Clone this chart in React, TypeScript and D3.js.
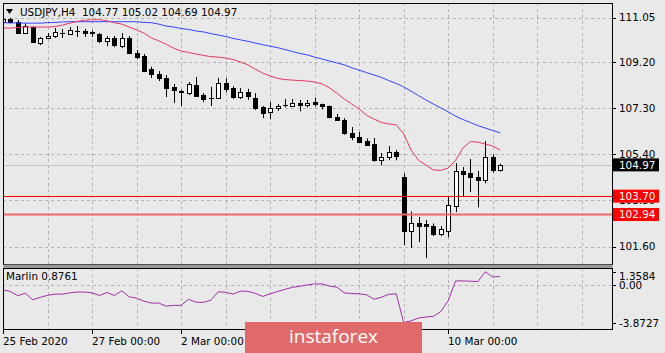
import React from 'react';
import * as d3 from 'd3';

const W = 665;
const H = 353;

// OHLC of USDJPY H4 candles (bar 0 = 25 Feb 2020 00:00)
const opens = [110.86,111.00,110.86,110.41,110.66,110.00,110.21,110.29,110.37,110.37,110.48,110.50,110.44,110.37,110.09,110.21,109.87,110.21,109.59,109.47,108.92,108.72,108.56,108.19,108.01,107.93,108.27,107.87,107.75,107.73,108.37,108.15,107.77,107.97,107.75,107.36,107.14,107.30,107.42,107.42,107.52,107.42,107.56,107.48,107.40,106.94,106.82,106.29,106.14,105.97,105.83,105.16,105.30,105.50,104.46,102.23,102.57,102.51,102.44,102.11,102.23,103.27,104.72,104.63,104.48,104.34,105.28,104.77];
const highs = [111.08,111.04,110.95,110.82,110.70,110.25,110.41,110.62,110.58,110.66,110.70,110.58,110.52,110.41,110.29,110.29,110.41,110.29,109.71,109.55,109.02,108.84,108.68,108.31,108.07,108.39,108.60,107.93,108.19,108.56,108.54,108.21,108.15,108.11,107.93,107.40,107.56,107.48,107.69,107.69,107.65,107.65,107.75,107.50,107.42,107.07,106.90,106.53,106.33,106.06,106.08,105.46,105.75,105.58,104.62,103.04,102.82,102.69,102.55,102.44,103.64,105.04,104.88,105.21,104.72,105.95,105.40,105.02];
const lows = [110.70,110.82,110.37,110.37,110.02,109.91,110.17,110.21,110.21,110.33,110.25,110.25,110.25,110.00,109.87,109.83,109.79,109.55,109.34,108.80,108.56,108.43,107.77,107.52,107.40,107.85,107.79,107.56,107.40,107.69,107.97,107.69,107.69,107.65,107.24,106.90,106.86,107.20,107.34,107.38,107.18,107.34,107.38,107.26,106.90,106.78,106.21,105.99,105.89,105.75,105.10,104.96,105.16,105.16,101.66,101.54,101.78,101.12,102.03,102.03,101.99,103.02,103.68,103.85,103.22,104.21,104.65,104.69];
const closes = [111.00,110.86,110.41,110.70,110.04,110.21,110.31,110.46,110.41,110.54,110.46,110.41,110.39,110.07,110.21,109.91,110.21,109.59,109.42,108.86,108.70,108.54,108.15,108.05,107.95,108.31,107.83,107.69,107.71,108.35,108.11,107.77,107.99,107.79,107.34,107.11,107.32,107.40,107.44,107.54,107.44,107.52,107.46,107.38,106.94,106.80,106.29,106.12,105.95,105.79,105.16,105.30,105.50,105.34,102.21,102.57,102.46,102.42,102.13,102.32,103.32,104.72,104.59,104.48,104.36,105.30,104.76,104.97];

// moving averages
const maRed = [110.62,110.62,110.64,110.66,110.66,110.66,110.66,110.68,110.74,110.82,110.89,110.94,110.96,110.96,110.92,110.84,110.78,110.66,110.54,110.41,110.21,110.09,109.95,109.79,109.67,109.61,109.55,109.49,109.44,109.42,109.38,109.32,109.22,109.10,108.92,108.76,108.64,108.54,108.49,108.47,108.45,108.43,108.39,108.31,108.15,107.93,107.69,107.48,107.28,107.02,106.86,106.72,106.66,106.62,106.25,105.58,105.16,104.96,104.76,104.74,104.84,105.16,105.67,105.93,105.91,105.83,105.75,105.58];
const maBlue = [110.84,110.83,110.83,110.82,110.82,110.82,110.84,110.85,110.87,110.88,110.88,110.88,110.88,110.88,110.88,110.88,110.88,110.88,110.88,110.85,110.84,110.78,110.70,110.66,110.60,110.56,110.50,110.46,110.39,110.33,110.27,110.19,110.13,110.07,110.00,109.93,109.87,109.81,109.73,109.65,109.57,109.51,109.42,109.34,109.26,109.18,109.10,108.98,108.88,108.78,108.68,108.58,108.45,108.33,108.19,108.01,107.83,107.65,107.48,107.32,107.16,106.98,106.84,106.72,106.59,106.49,106.39,106.29];

// Marlin oscillator
const marlin = [-0.51,-0.68,-1.12,-0.85,-1.53,-1.29,-1.07,-0.95,-0.95,-0.82,-0.74,-0.74,-0.82,-1.09,-0.78,-1.09,-0.61,-1.22,-1.36,-1.68,-1.87,-1.87,-2.19,-2.11,-2.11,-1.48,-1.78,-1.80,-1.58,-0.71,-0.76,-0.95,-0.64,-0.66,-0.87,-1.19,-0.92,-0.68,-0.46,-0.25,-0.15,0.00,0.10,0.10,-0.13,-0.23,-0.82,-0.89,-0.92,-1.02,-1.48,-1.27,-0.97,-0.92,-3.8727,-3.70,-3.41,-3.31,-3.24,-2.75,-1.63,0.41,0.41,0.38,0.34,1.3584,0.80,0.8761];

const priceTicks = [111.05, 109.20, 107.30, 105.40, 103.50, 101.60];
const levels = [103.70, 102.94];
const lastPrice = 104.97;
const marlinTicks = [1.3584, 0.0, -3.8727];
// labels visible in the picture (the ones at bars 36 and 48 are covered by the watermark)
const timeLabels = ['25 Feb 2020', '27 Feb 00:00', '2 Mar 00:00', '10 Mar 00:00'];
const timeLabelBars = [0, 12, 24, 60];
const timeTickBars = [0, 12, 24, 36, 48, 60];
const gridBars = [6, 12, 18, 24, 30, 36, 42, 48, 54, 60, 66, 72, 78];
const header = 'USDJPY,H4  104.77 105.02 104.69 104.97';

const FONT = '"DejaVu Sans", Verdana, sans-serif';

export default function App() {
  const L = 3, R = 612, T = 3, B = 265;
  const IT = 268, IB = 330;
  const x = d3.scaleLinear().domain([0, 60]).range([3, 448.2]);
  const y = d3.scaleLinear().domain([101.6, 111.05]).range([246.5, 17.6]);
  const yi = d3.scaleLinear().domain([-3.8727, 1.3584]).range([322.5, 271.7]);

  const lineMain = d3.line<number>().x((_, i) => x(i)).y((v) => y(v));
  const lineInd = d3.line<number>().x((_, i) => x(i)).y((v) => yi(v));

  const fmt = d3.format('.2f');
  const bg = '#e9e9e9';
  const grid = '#b4b4b4';

  return (
    <svg width={W} height={H} style={{ position: 'fixed', left: 0, top: 0, background: bg }} fontFamily={FONT}>
      <defs>
        <clipPath id="mainClip"><rect x={L} y={T} width={R - L} height={B - T} /></clipPath>
        <clipPath id="indClip"><rect x={L} y={IT} width={R - L} height={IB - IT} /></clipPath>
      </defs>
      <rect x={0} y={0} width={W} height={H} fill={bg} />

      {/* main panel grid */}
      <g stroke={grid} strokeDasharray="3,3" strokeWidth={1}>
        {priceTicks.map((p) => (
          <line key={'h' + p} x1={L} x2={R} y1={Math.round(y(p)) + 0.5} y2={Math.round(y(p)) + 0.5} />
        ))}
        {gridBars.filter((b) => x(b) < R).map((b) => (
          <line key={'v' + b} x1={Math.round(x(b)) + 0.5} x2={Math.round(x(b)) + 0.5} y1={T} y2={B} />
        ))}
        {gridBars.filter((b) => x(b) < R).map((b) => (
          <line key={'vi' + b} x1={Math.round(x(b)) + 0.5} x2={Math.round(x(b)) + 0.5} y1={IT} y2={IB} />
        ))}
        <line x1={L} x2={R} y1={Math.round(yi(0)) + 0.5} y2={Math.round(yi(0)) + 0.5} />
      </g>

      {/* last price line */}
      <line x1={L} x2={R} y1={Math.round(y(lastPrice)) + 0.5} y2={Math.round(y(lastPrice)) + 0.5} stroke="#c4c4c4" strokeWidth={1} />

      <g clipPath="url(#mainClip)">
        {/* candles */}
        {opens.map((o, i) => {
          const c = closes[i];
          const cx = Math.round(x(i));
          const yo = y(o), yc = y(c);
          const top = Math.min(yo, yc);
          const h = Math.abs(yo - yc);
          const up = c >= o;
          return (
            <g key={'c' + i}>
              <line x1={cx + 0.5} x2={cx + 0.5} y1={y(highs[i])} y2={y(lows[i])} stroke="#000" strokeWidth={1} />
              {h < 1.2 ? (
                <line x1={cx - 2} x2={cx + 3} y1={Math.round(top) + 0.5} y2={Math.round(top) + 0.5} stroke="#000" strokeWidth={1} />
              ) : (
                <rect x={cx - 1.5} y={Math.round(top) + 0.5} width={4} height={Math.max(1, Math.round(h))} fill={up ? '#fff' : '#000'} stroke="#000" strokeWidth={1} />
              )}
            </g>
          );
        })}
        {/* moving averages */}
        <path d={lineMain(maBlue) || ''} fill="none" stroke="#3344ff" strokeWidth={1} />
        <path d={lineMain(maRed) || ''} fill="none" stroke="#e8385c" strokeWidth={1} />
        {/* levels */}
        <line x1={L} x2={R} y1={Math.round(y(levels[0])) + 0.5} y2={Math.round(y(levels[0])) + 0.5} stroke="#ff0000" strokeWidth={1} />
        <line x1={L} x2={R} y1={Math.round(y(levels[1])) + 0.5} y2={Math.round(y(levels[1])) + 0.5} stroke="#f26868" strokeWidth={2} />
      </g>

      {/* indicator line */}
      <g clipPath="url(#indClip)">
        <path d={lineInd(marlin) || ''} fill="none" stroke="#a030a8" strokeWidth={1} />
      </g>

      {/* panel borders */}
      <rect x={L + 0.5} y={T + 0.5} width={R - L} height={B - T - 1} fill="none" stroke="#000" strokeWidth={1} />
      <rect x={L + 0.5} y={B - 0.5} width={R - L} height={IT - B + 0.5} fill="#9a9a9a" stroke="none" />
      <rect x={L + 0.5} y={IT + 0.5} width={R - L} height={IB - IT - 1} fill="none" stroke="#000" strokeWidth={1} />

      {/* price axis */}
      <g fontSize={10.4} fill="#000">
        {priceTicks.map((p) => (
          <g key={'pt' + p}>
            <line x1={R} x2={R + 4} y1={Math.round(y(p)) + 0.5} y2={Math.round(y(p)) + 0.5} stroke="#000" />
            <text x={619} y={y(p) + 3.8}>{fmt(p)}</text>
          </g>
        ))}
        {marlinTicks.map((v, k) => (
          <g key={'mt' + v}>
            <line x1={R} x2={R + 4} y1={Math.round(yi(v)) + 0.5} y2={Math.round(yi(v)) + 0.5} stroke="#000" />
            <text x={619} y={k === 0 ? yi(v) + 8.3 : yi(v) + 4.3}>{k === 1 ? '0.00' : String(v)}</text>
          </g>
        ))}
      </g>

      {/* price labels */}
      <g fontSize={10.4}>
        <rect x={613} y={y(lastPrice) - 6.5} width={46} height={13} fill="#000" />
        <text x={619} y={y(lastPrice) + 3.8} fill="#fff">{fmt(lastPrice)}</text>
        {levels.map((lv) => (
          <g key={'lv' + lv}>
            <rect x={613} y={y(lv) - 6} width={46} height={13} fill="#ff0000" />
            <text x={619} y={y(lv) + 4.3} fill="#fff">{fmt(lv)}</text>
          </g>
        ))}
      </g>

      {/* time axis */}
      <g fontSize={10.4} fill="#000">
        {timeTickBars.map((b) => (
          <line key={'tt' + b} x1={Math.round(x(b)) + 0.5} x2={Math.round(x(b)) + 0.5} y1={IB} y2={IB + 4} stroke="#000" />
        ))}
        {timeLabelBars.map((b, k) => (
          <text key={'tl' + b} x={Math.round(x(b))} y={345}>{timeLabels[k]}</text>
        ))}
      </g>

      {/* header & indicator label */}
      <path d="M6,9 L13,9 L9.5,14 Z" fill="#000" />
      <text x={20} y={16} fontSize={10.4} fill="#000" style={{ whiteSpace: 'pre' }}>{header}</text>
      <text x={6} y={280} fontSize={10.4} fill="#000">{'Marlin ' + marlin[marlin.length - 1].toFixed(4)}</text>

      {/* watermark */}
      <rect x={245} y={322} width={177} height={34} fill="#e06a6a" />
      <text x={333.5} y={343} fontSize={19} fill="#fff" textAnchor="middle" fontFamily='"Open Sans", sans-serif'>instaforex</text>
    </svg>
  );
}
